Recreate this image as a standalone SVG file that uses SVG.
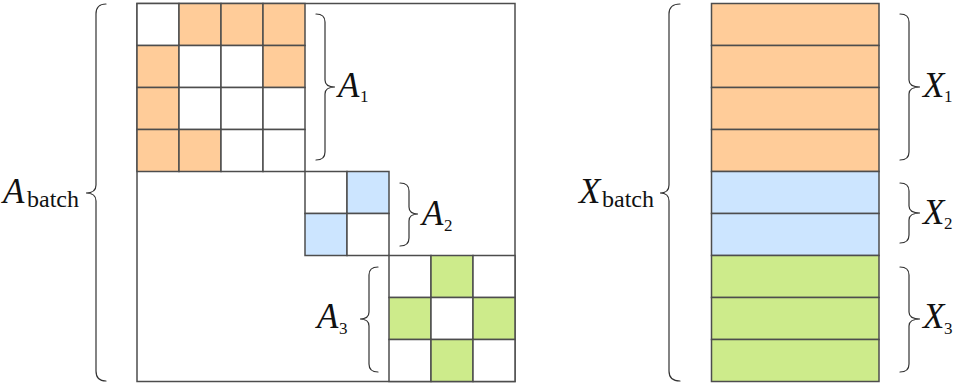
<svg xmlns="http://www.w3.org/2000/svg" width="960" height="385" viewBox="0 0 960 385">
<defs>
<style>
.o{fill:#ffcc99}
.b{fill:#cce5ff}
.g{fill:#cdeb8b}
.w{fill:#ffffff}
.c{stroke:#4d4d4d;stroke-width:1.5}
.br{fill:none;stroke:#333333;stroke-width:1.2;stroke-linecap:round}
text{fill:#111;font-family:"Liberation Serif","DejaVu Serif",serif}
.m{font-style:italic;font-size:35px}
.s{font-size:17px}
.t{font-size:24px}
</style>
</defs>
<rect width="960" height="385" fill="#ffffff"/>
<g id="A_batch_matrix">
<rect x="137" y="3.5" width="378" height="378" fill="#ffffff" stroke="#4d4d4d" stroke-width="1.5"/>
</g>
<g id="A1" class="c">
<rect class="w" x="137" y="3.5" width="42" height="42"/>
<rect class="o" x="179" y="3.5" width="42" height="42"/>
<rect class="o" x="221" y="3.5" width="42" height="42"/>
<rect class="o" x="263" y="3.5" width="42" height="42"/>
<rect class="o" x="137" y="45.5" width="42" height="42"/>
<rect class="w" x="179" y="45.5" width="42" height="42"/>
<rect class="w" x="221" y="45.5" width="42" height="42"/>
<rect class="o" x="263" y="45.5" width="42" height="42"/>
<rect class="o" x="137" y="87.5" width="42" height="42"/>
<rect class="w" x="179" y="87.5" width="42" height="42"/>
<rect class="w" x="221" y="87.5" width="42" height="42"/>
<rect class="w" x="263" y="87.5" width="42" height="42"/>
<rect class="o" x="137" y="129.5" width="42" height="42"/>
<rect class="o" x="179" y="129.5" width="42" height="42"/>
<rect class="w" x="221" y="129.5" width="42" height="42"/>
<rect class="w" x="263" y="129.5" width="42" height="42"/>
</g>
<g id="A2" class="c">
<rect class="w" x="305" y="171.5" width="42" height="42"/>
<rect class="b" x="347" y="171.5" width="42" height="42"/>
<rect class="b" x="305" y="213.5" width="42" height="42"/>
<rect class="w" x="347" y="213.5" width="42" height="42"/>
</g>
<g id="A3" class="c">
<rect class="w" x="389" y="255.5" width="42" height="42"/>
<rect class="g" x="431" y="255.5" width="42" height="42"/>
<rect class="w" x="473" y="255.5" width="42" height="42"/>
<rect class="g" x="389" y="297.5" width="42" height="42"/>
<rect class="w" x="431" y="297.5" width="42" height="42"/>
<rect class="g" x="473" y="297.5" width="42" height="42"/>
<rect class="w" x="389" y="339.5" width="42" height="42"/>
<rect class="g" x="431" y="339.5" width="42" height="42"/>
<rect class="w" x="473" y="339.5" width="42" height="42"/>
</g>
<g id="X_batch" class="c">
<rect class="o" x="711.5" y="3.5" width="167.5" height="42"/>
<rect class="o" x="711.5" y="45.5" width="167.5" height="42"/>
<rect class="o" x="711.5" y="87.5" width="167.5" height="42"/>
<rect class="o" x="711.5" y="129.5" width="167.5" height="42"/>
<rect class="b" x="711.5" y="171.5" width="167.5" height="42"/>
<rect class="b" x="711.5" y="213.5" width="167.5" height="42"/>
<rect class="g" x="711.5" y="255.5" width="167.5" height="42"/>
<rect class="g" x="711.5" y="297.5" width="167.5" height="42"/>
<rect class="g" x="711.5" y="339.5" width="167.5" height="42"/>
</g>
<g id="braces">
<path class="br" d="M106 4 Q96 4 96 14 L96 185 Q96 193 86 193 Q96 193 96 201 L96 371 Q96 381 106 381"/>
<path class="br" d="M316 14 Q325 14 325 22 L325 80 Q325 87 335 87 Q325 87 325 94 L325 152 Q325 160 316 160"/>
<path class="br" d="M400 183 Q409 183 409 191 L409 207 Q409 214 418 214 Q409 214 409 221 L409 238 Q409 246 400 246"/>
<path class="br" d="M378 267 Q369 267 369 275 L369 312 Q369 319 360 319 Q369 319 369 326 L369 364 Q369 372 378 372"/>
<path class="br" d="M680 4 Q669 4 669 14 L669 185 Q669 193 660 193 Q669 193 669 201 L669 371 Q669 381 680 381"/>
<path class="br" d="M900 14 Q909 14 909 22 L909 80 Q909 87 920 87 Q909 87 909 94 L909 152 Q909 160 900 160"/>
<path class="br" d="M900 183 Q909 183 909 191 L909 206 Q909 213 920 213 Q909 213 909 220 L909 235 Q909 243 900 243"/>
<path class="br" d="M900 267 Q909 267 909 275 L909 312 Q909 319 920 319 Q909 319 909 326 L909 364 Q909 372 900 372"/>
</g>
<g id="labels">
<text class="m" x="3" y="203">A</text><text class="t" x="27" y="207">batch</text>
<text class="m" x="338" y="97">A</text><text class="s" x="360" y="102">1</text>
<text class="m" x="422" y="225">A</text><text class="s" x="444" y="231">2</text>
<text class="m" x="317" y="328">A</text><text class="s" x="339" y="334">3</text>
<text class="m" x="579" y="203">X</text><text class="t" x="602" y="207">batch</text>
<text class="m" x="923" y="97">X</text><text class="s" x="944" y="102">1</text>
<text class="m" x="923" y="224">X</text><text class="s" x="944" y="229">2</text>
<text class="m" x="923" y="328">X</text><text class="s" x="944" y="334">3</text>
</g>
</svg>
